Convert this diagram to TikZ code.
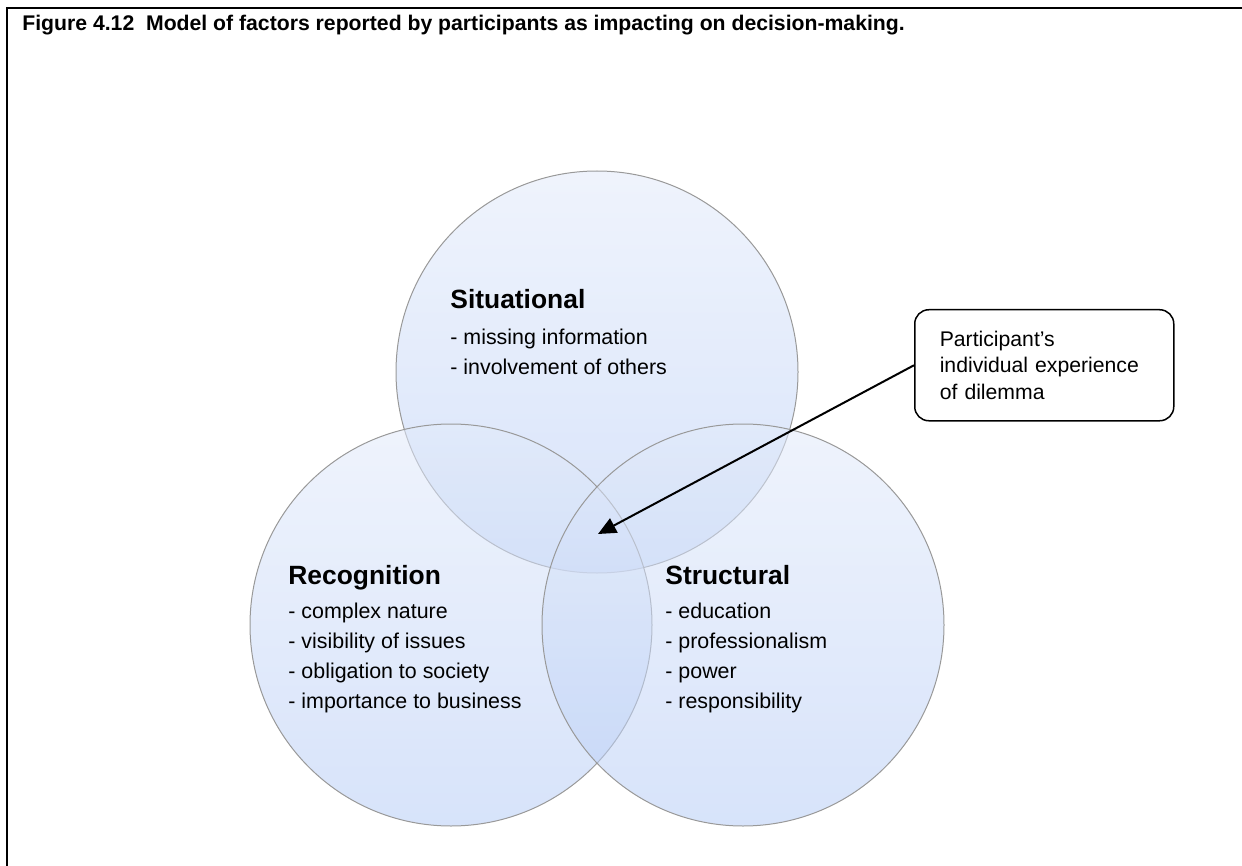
\documentclass[tikz,border=0pt]{standalone}
\usepackage{fontspec}
\setmainfont{Liberation Sans}
\usetikzlibrary{arrows.meta, calc}

\definecolor{venntop}{RGB}{226,234,250}
\definecolor{vennbot}{RGB}{182,204,245}

\tikzset{
	venn/.style={circle, draw=black!40, line width=0.5pt, minimum size=201pt, inner sep=0pt,
		top color=venntop, bottom color=vennbot, fill opacity=0.55},
	head/.style={anchor=base west, inner sep=0pt, font=\fontsize{13.2}{15}\selectfont\bfseries},
	item/.style={anchor=base west, inner sep=0pt, font=\fontsize{10.7}{13}\selectfont},
	callout/.style={draw, rounded corners=7pt, line width=0.75pt, align=left, anchor=north west,
		text width=104.5pt, inner xsep=12.5pt, minimum width=129.5pt, minimum height=55.5pt,
		font=\fontsize{10.6}{13.25}\selectfont}
}

\begin{document}
\begin{tikzpicture}[x=0.5pt, y=-0.5pt]
\useasboundingbox (0,0) rectangle (1242,866);

% frame and caption
\draw[line width=1pt] (6.5,866) -- (6.5,8) -- (1242,8);
\node[anchor=base west, inner sep=0pt, font=\fontsize{10.6}{12}\selectfont\bfseries] (title) at (22,31)
	{Figure 4.12\ \ Model of factors reported by participants as impacting on decision-making.};

% the three circles
\node[venn] (sit) at (597,372) {};
\node[venn] (rec) at (451,625) {};
\node[venn] (str) at (743,625) {};

% circle texts
\node[head] (sithead) at (450,308) {Situational};
\foreach \txt [count=\i] in {missing information, involvement of others}
	\node[item] (sit\i) at ({450},{344+30*(\i-1)}) {- \txt};

\node[head] (rechead) at (288,584) {Recognition};
\foreach \txt [count=\i] in {complex nature, visibility of issues, obligation to society, importance to business}
	\node[item] (rec\i) at ({288},{618+30.3*(\i-1)}) {- \txt};

\node[head] (strhead) at (665,584) {Structural};
\foreach \txt [count=\i] in {education, professionalism, power, responsibility}
	\node[item] (str\i) at ({665},{618+30.3*(\i-1)}) {- \txt};

% callout
\node[callout] (dilemma) at (914,309) {Participant's\\ individual experience\\ of dilemma};
\coordinate (core) at (598,534);
\draw[line width=1pt, -{Triangle[length=9pt, width=8pt]}] (dilemma.west) -- (core);
\end{tikzpicture}
\end{document}
